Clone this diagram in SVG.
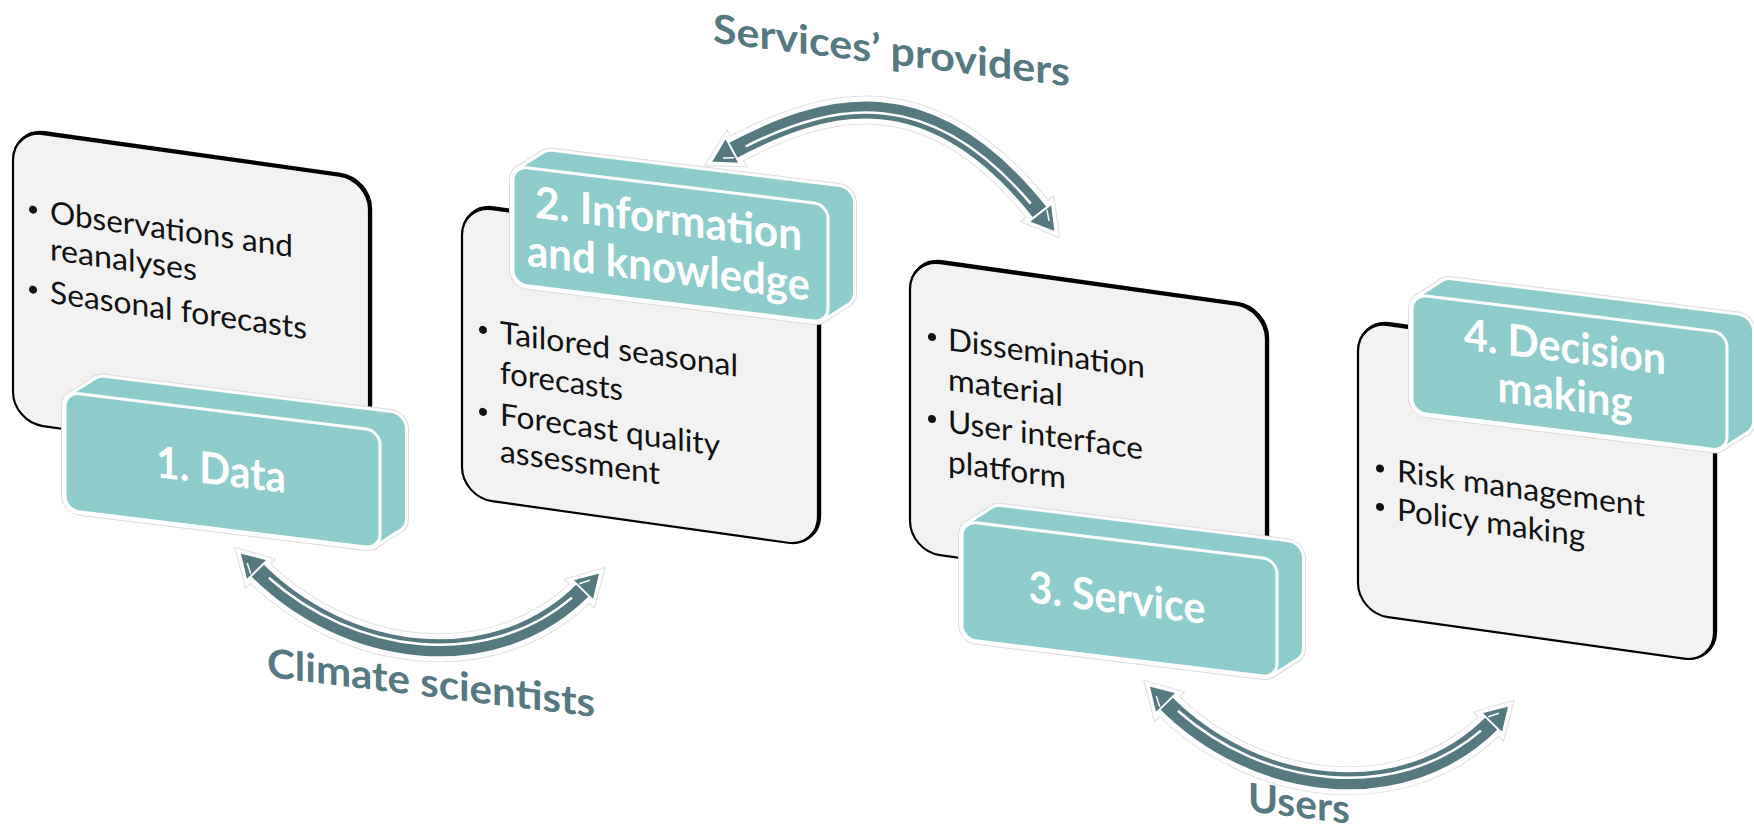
<svg xmlns="http://www.w3.org/2000/svg" xmlns:xlink="http://www.w3.org/1999/xlink" width="1754" height="833" viewBox="0 0 1754 833">
  <style>
    .card{fill:#f2f2f2;stroke:#000;stroke-width:2.2}
    .rim{fill:none;stroke:#000;stroke-width:3.4}
    .dot{fill:#111}
    .item{font-family:Lato,'Liberation Sans',sans-serif;font-size:31px;fill:#111}
    .title{font-family:Lato,'Liberation Sans',sans-serif;font-weight:700;font-size:44px;fill:#fff;text-anchor:middle}
    .face{fill:#8fcdcc;stroke:#fff;stroke-width:3}
    .slab-edge{fill:none;stroke:#dcdcdc;stroke-width:8;stroke-linejoin:round}
    .slab-rim{fill:none;stroke:#fff;stroke-width:6;stroke-linejoin:round}
    .slab-fill{fill:#8fcdcc;stroke:none}
    .lbl{font-family:Lato,'Liberation Sans',sans-serif;font-weight:700;font-size:40px;fill:#56797f}
    .halo-edge{fill:none;stroke:#e2e2e2;stroke-width:29}
    .halo{fill:none;stroke:#fff;stroke-width:27}
    .band{fill:none;stroke:#56797f;stroke-width:17}
    .seam{fill:none;stroke:#fff;stroke-width:2.5;stroke-dasharray:0 5 90 100}
  </style>
  <defs>
    <!-- extruded slab: back face, sweep and front face, origin at front top-left -->
    <g id="slab">
      <rect x="25" y="-19" width="315" height="118" rx="14"/>
      <polygon points="4.1,4.1 29.1,-14.9 335.9,-14.9 335.9,94.9 310.9,113.9 4.1,113.9"/>
      <rect x="0" y="0" width="315" height="118" rx="14"/>
    </g>
    <marker id="head" markerUnits="userSpaceOnUse" orient="auto-start-reverse" refX="0" refY="0" markerWidth="60" markerHeight="60" viewBox="-30 -30 60 60" overflow="visible">
      <path d="M-3,-15 L22,0 L-3,15 Z" fill="#56797f" stroke="#fff" stroke-width="2" stroke-linejoin="round"/>
      <path d="M-1,-7 L9,-2" fill="none" stroke="#fff" stroke-width="1.5"/>
    </marker>
    <marker id="head-halo" markerUnits="userSpaceOnUse" orient="auto-start-reverse" refX="0" refY="0" markerWidth="80" markerHeight="80" viewBox="-40 -40 80 80" overflow="visible">
      <path d="M-8,-21 L29,0 L-8,21 Z" fill="#fff" stroke="#e2e2e2" stroke-width="1.2" stroke-linejoin="round"/>
    </marker>
  </defs>
  <rect width="1754" height="833" fill="#fff"/>

  <g id="node-data">
    <g transform="skewY(8)">
      <rect class="rim" x="14.5" y="126.5" width="356" height="292" rx="30"/>
      <rect class="card" x="13" y="128" width="356" height="292" rx="30"/>
      <circle class="dot" cx="33" cy="205" r="4"/>
      <text class="item" x="50" y="216" textLength="243" lengthAdjust="spacingAndGlyphs">Observations and</text>
      <text class="item" x="50" y="253" textLength="147" lengthAdjust="spacingAndGlyphs">reanalyses</text>
      <circle class="dot" cx="33" cy="285" r="4"/>
      <text class="item" x="50" y="296" textLength="257" lengthAdjust="spacingAndGlyphs">Seasonal forecasts</text>
    </g>
    <g transform="skewY(7)">
      <use href="#slab" x="65" y="384" class="slab-edge"/>
      <use href="#slab" x="65" y="384" class="slab-rim"/>
      <use href="#slab" x="65" y="384" class="slab-fill"/>
      <rect class="face" x="65" y="384" width="315" height="118" rx="14"/>
      <text class="title" x="221" y="458" textLength="130" lengthAdjust="spacingAndGlyphs">1. Data</text>
    </g>
  </g>

  <g id="node-information">
    <g transform="skewY(8)">
      <rect class="rim" x="463.5" y="138.5" width="356" height="292" rx="30"/>
      <rect class="card" x="462" y="140" width="356" height="292" rx="30"/>
      <circle class="dot" cx="483" cy="262" r="4"/>
      <text class="item" x="500" y="273" textLength="238" lengthAdjust="spacingAndGlyphs">Tailored seasonal</text>
      <text class="item" x="500" y="313" textLength="123" lengthAdjust="spacingAndGlyphs">forecasts</text>
      <circle class="dot" cx="483" cy="344" r="4"/>
      <text class="item" x="500" y="355" textLength="220" lengthAdjust="spacingAndGlyphs">Forecast quality</text>
      <text class="item" x="500" y="391.5" textLength="160" lengthAdjust="spacingAndGlyphs">assessment</text>
    </g>
    <g transform="skewY(7)">
      <use href="#slab" x="513" y="103" class="slab-edge"/>
      <use href="#slab" x="513" y="103" class="slab-rim"/>
      <use href="#slab" x="513" y="103" class="slab-fill"/>
      <rect class="face" x="513" y="103" width="315" height="118" rx="14"/>
      <text class="title" x="668.5" y="152" textLength="267" lengthAdjust="spacingAndGlyphs">2. Information</text>
      <text class="title" x="668.5" y="201" textLength="283" lengthAdjust="spacingAndGlyphs">and knowledge</text>
    </g>
  </g>

  <g id="node-service">
    <g transform="skewY(8)">
      <rect class="rim" x="911.5" y="129.5" width="356" height="292" rx="30"/>
      <rect class="card" x="910" y="131" width="356" height="292" rx="30"/>
      <circle class="dot" cx="932" cy="206" r="4"/>
      <text class="item" x="948" y="217" textLength="197" lengthAdjust="spacingAndGlyphs">Dissemination</text>
      <text class="item" x="948" y="257" textLength="115" lengthAdjust="spacingAndGlyphs">material</text>
      <circle class="dot" cx="932" cy="288" r="4"/>
      <text class="item" x="948" y="299" textLength="195" lengthAdjust="spacingAndGlyphs">User interface</text>
      <text class="item" x="948" y="339" textLength="118" lengthAdjust="spacingAndGlyphs">platform</text>
    </g>
    <g transform="skewY(7)">
      <use href="#slab" x="962" y="403" class="slab-edge"/>
      <use href="#slab" x="962" y="403" class="slab-rim"/>
      <use href="#slab" x="962" y="403" class="slab-fill"/>
      <rect class="face" x="962" y="403" width="315" height="118" rx="14"/>
      <text class="title" x="1117" y="476" textLength="177" lengthAdjust="spacingAndGlyphs">3. Service</text>
    </g>
  </g>

  <g id="node-decision">
    <g transform="skewY(8)">
      <rect class="rim" x="1359.5" y="128.5" width="356" height="292" rx="30"/>
      <rect class="card" x="1358" y="130" width="356" height="292" rx="30"/>
      <circle class="dot" cx="1380" cy="274.5" r="4"/>
      <text class="item" x="1397" y="285.5" textLength="248" lengthAdjust="spacingAndGlyphs">Risk management</text>
      <circle class="dot" cx="1380" cy="313" r="4"/>
      <text class="item" x="1397" y="324" textLength="188" lengthAdjust="spacingAndGlyphs">Policy making</text>
    </g>
    <g transform="skewY(7)">
      <use href="#slab" x="1412" y="121" class="slab-edge"/>
      <use href="#slab" x="1412" y="121" class="slab-rim"/>
      <use href="#slab" x="1412" y="121" class="slab-fill"/>
      <rect class="face" x="1412" y="121" width="315" height="118" rx="14"/>
      <text class="title" x="1565" y="170" textLength="202" lengthAdjust="spacingAndGlyphs">4. Decision</text>
      <text class="title" x="1565" y="218" textLength="135" lengthAdjust="spacingAndGlyphs">making</text>
    </g>
  </g>

  <g id="connectors">
    <!-- climate scientists: data <-> information -->
    <g id="link-scientists">
      <path class="halo-edge" d="M255,568 C345,660 495,680 585,588" marker-start="url(#head-halo)" marker-end="url(#head-halo)"/>
      <path class="halo" d="M255,568 C345,660 495,680 585,588"/>
      <path class="band" d="M255,568 C345,660 495,680 585,588" marker-start="url(#head)" marker-end="url(#head)"/>
      <path class="seam" pathLength="100" transform="translate(0.5,-3)" d="M255,568 C345,660 495,680 585,588"/>
    </g>
    <!-- services' providers: information <-> service -->
    <g id="link-providers">
      <path class="halo-edge" d="M730,152 C827,100 931,73 1042,215" marker-start="url(#head-halo)" marker-end="url(#head-halo)"/>
      <path class="halo" d="M730,152 C827,100 931,73 1042,215"/>
      <path class="band" d="M730,152 C827,100 931,73 1042,215" marker-start="url(#head)" marker-end="url(#head)"/>
      <path class="seam" pathLength="100" transform="translate(0,2.5)" d="M730,152 C827,100 931,73 1042,215"/>
    </g>
    <!-- users: service <-> decision making -->
    <g id="link-users">
      <path class="halo-edge" d="M1164,701 C1254,793 1404,813 1494,721" marker-start="url(#head-halo)" marker-end="url(#head-halo)"/>
      <path class="halo" d="M1164,701 C1254,793 1404,813 1494,721"/>
      <path class="band" d="M1164,701 C1254,793 1404,813 1494,721" marker-start="url(#head)" marker-end="url(#head)"/>
      <path class="seam" pathLength="100" transform="translate(0.5,-3)" d="M1164,701 C1254,793 1404,813 1494,721"/>
    </g>
  </g>

  <g id="labels" transform="skewY(7)">
    <text class="lbl" x="713" y="-45" textLength="357" lengthAdjust="spacingAndGlyphs">Services’ providers</text>
    <text class="lbl" x="267" y="644" textLength="328" lengthAdjust="spacingAndGlyphs">Climate scientists</text>
    <text class="lbl" x="1248" y="658" textLength="102" lengthAdjust="spacingAndGlyphs">Users</text>
  </g>
</svg>
